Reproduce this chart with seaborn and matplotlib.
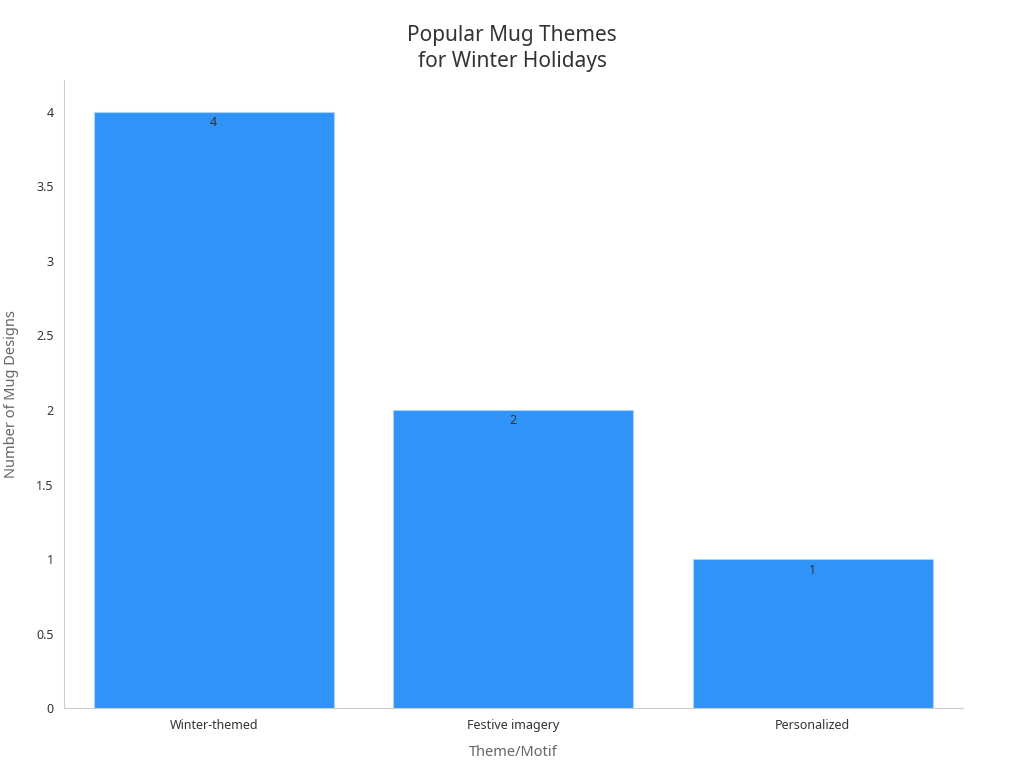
import pandas as pd
import seaborn as sns
import matplotlib.pyplot as plt

# Chart data
themes = ['Winter-themed', 'Festive imagery', 'Personalized']
designs = [4, 2, 1]

data = pd.DataFrame({'Theme': themes, 'Designs': designs})

sns.set_style('white')
plt.rcParams['font.family'] = ['Noto Sans', 'DejaVu Sans']

fig = plt.figure(figsize=(10.24, 7.68), dpi=100)
ax = fig.add_axes([0.0625, 0.078, 0.8775, 0.818])

sns.barplot(data=data, x='Theme', y='Designs', color='#2F93F7', width=0.8,
            saturation=1, edgecolor='#A9D3FB', linewidth=0.8, ax=ax)

for i, v in enumerate(designs):
    ax.text(i, v - 0.03, str(v), ha='center', va='top', fontsize=9, color='#333333')

ax.set_xlim(-0.5, 2.5)
ax.set_ylim(0, 4.215)
ax.set_yticks([0, 0.5, 1, 1.5, 2, 2.5, 3, 3.5, 4])
ax.set_yticklabels(['0', '0.5', '1', '1.5', '2', '2.5', '3', '3.5', '4'])

ax.set_xlabel('Theme/Motif', fontsize=10.5, color='#666666', labelpad=10)
ax.set_ylabel('Number of Mug Designs', fontsize=10.5, color='#666666', labelpad=12)
ax.tick_params(axis='both', labelsize=9, colors='#333333', length=4, width=0.8)
ax.tick_params(axis='both', color='#666666')

for side in ['top', 'right']:
    ax.spines[side].set_visible(False)
for side in ['left', 'bottom']:
    ax.spines[side].set_color('#CCCCCC')
    ax.spines[side].set_linewidth(0.8)

fig.suptitle('Popular Mug Themes\nfor Winter Holidays', fontsize=15, color='#333333',
             y=0.967, linespacing=1.3)

plt.savefig('out.png', dpi=100)
